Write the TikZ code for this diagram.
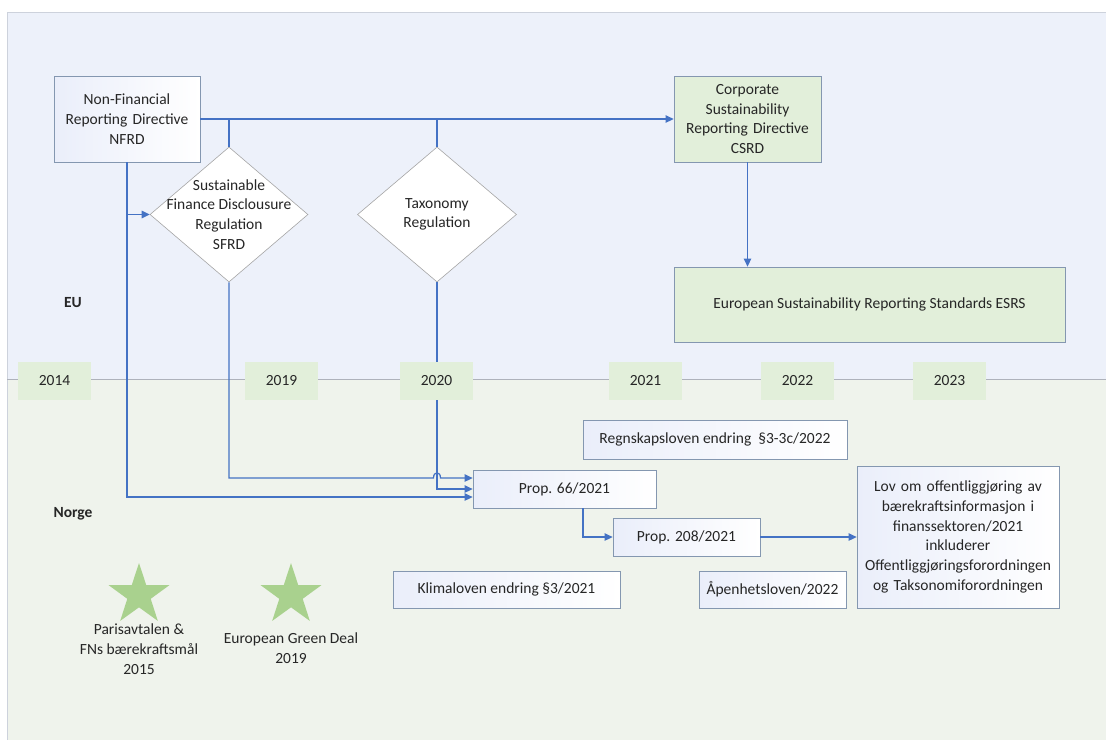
\documentclass[tikz,border=0pt]{standalone}
\usepackage{fontspec}
\setmainfont{Carlito}
\usetikzlibrary{shapes.geometric,arrows.meta}
\definecolor{eubg}{RGB}{237,241,250}
\definecolor{nobg}{RGB}{239,243,236}
\definecolor{yearfill}{RGB}{226,239,218}
\definecolor{greenbox}{RGB}{226,239,218}
\definecolor{boxline}{RGB}{132,151,176}
\definecolor{diamline}{RGB}{165,165,165}
\definecolor{arrowblue}{RGB}{68,114,196}
\definecolor{starg}{RGB}{169,209,142}
\definecolor{txt}{RGB}{38,38,38}
\definecolor{frame}{RGB}{205,210,220}
\definecolor{boxshade}{RGB}{234,238,250}
\begin{document}
\begin{tikzpicture}[x=1pt,y=-1pt,
  every node/.style={font=\fontsize{15.5}{19.7}\selectfont, text=txt},
  wbox/.style={draw=boxline, line width=0.8pt, left color=boxshade, right color=white, inner sep=0pt, align=center},
  gbox/.style={draw=boxline, line width=0.8pt, fill=greenbox, inner sep=0pt, align=center},
  diam/.style={diamond, draw=diamline, line width=0.6pt, fill=white, inner sep=0pt},
  yearbox/.style={fill=yearfill, minimum width=73pt, minimum height=38pt, inner sep=0pt},
  conn/.style={draw=arrowblue, line width=1.2pt},
  arr/.style={conn, -{Triangle[length=8pt,width=7.5pt]}},
  lbl/.style={align=center, inner sep=0pt},
  starshape/.style={star, star points=5, star point ratio=2.6, fill=starg, minimum size=64pt, inner sep=0pt}
]
\useasboundingbox (0,0) rectangle (1106,740);
% backgrounds
\fill[white] (0,0) rectangle (1106,740);
\fill[eubg] (7,12) rectangle (1106,379);
\fill[nobg] (7,379) rectangle (1106,740);
\draw[frame, line width=0.6pt] (1106,12) -- (7,12) -- (7,740);
\draw[frame!85!black, line width=0.6pt] (7,379) -- (1106,379);

% EU nodes
\node[wbox, minimum width=146pt, minimum height=86pt, text width=142pt] (nfrd) at (127,119) {Non-Financial\\Reporting Directive\\NFRD};
\node[gbox, minimum width=147pt, minimum height=86pt, text width=142pt] (csrd) at (747.5,119) {Corporate\\Sustainability\\Reporting Directive\\CSRD};
\node[gbox, minimum width=391pt, minimum height=75pt] (esrs) at (869.5,304.5) {European Sustainability Reporting Standards ESRS};
\node[diam, minimum width=158pt, minimum height=135pt] (sfrd) at (229,214.5) {};
\node[lbl] at (sfrd.center) {Sustainable\\Finance Disclousure\\Regulation\\SFRD};
\node[diam, minimum width=159pt, minimum height=135pt] (tax) at (437,214.5) {};
\node[lbl] at (tax.center) {Taxonomy\\Regulation};
\node[font=\fontsize{15.5}{19.7}\selectfont\bfseries] (eu) at (73,303) {EU};

% Norge nodes
\node[font=\fontsize{15.5}{19.7}\selectfont\bfseries] (norge) at (73,514) {Norge};
\node[wbox, minimum width=264pt, minimum height=39pt] (regn) at (715,439.5) {Regnskapsloven endring\ \ §3-3c/2022};
\node[wbox, minimum width=183pt, minimum height=38pt] (p66) at (564.5,489) {Prop. 66/2021};
\node[wbox, minimum width=147pt, minimum height=38pt] (p208) at (686.5,537) {Prop. 208/2021};
\node[wbox, minimum width=202pt, minimum height=142pt, text width=198pt] (lov) at (958,537) {Lov om offentliggjøring av\\bærekraftsinformasjon i\\finanssektoren/2021\\inkluderer\\Offentliggjøringsforordningen\\og Taksonomiforordningen};
\node[wbox, minimum width=227pt, minimum height=37pt] (klima) at (506.5,589.5) {Klimaloven endring §3/2021};
\node[wbox, minimum width=147pt, minimum height=37pt] (apen) at (772.5,589.5) {Åpenhetsloven/2022};

% stars
\node[starshape] (star1) at (139,595) {};
\node[starshape] (star2) at (291,595) {};
\node[lbl] (star1t) at (139,649) {Parisavtalen \&\\FNs bærekraftsmål\\2015};
\node[lbl] (star2t) at (291,648) {European Green Deal\\2019};

% connectors
\coordinate (j1) at (sfrd.north |- nfrd.east);
\coordinate (j2) at (tax.north |- nfrd.east);
\draw[arr] (nfrd.east) -- (csrd.west);
\draw[conn] (j1) -- (sfrd.north);
\draw[conn] (j2) -- (tax.north);
\draw[arr] (csrd.south) -- (csrd.south |- esrs.north);
\draw[arr] (nfrd.south |- sfrd.west) -- (sfrd.west);
\draw[arr] (nfrd.south) |- ([yshift=-8pt]p66.west);
\draw[arr] (tax.south) |- (p66.west);
\coordinate (sfy) at ([yshift=11pt]p66.west);
\coordinate (hopa) at ([xshift=-3.5pt]tax.south |- sfy);
\coordinate (hopb) at ([xshift=3.5pt]tax.south |- sfy);
\draw[arr] (sfrd.south) -- (sfrd.south |- sfy) -- (hopa) .. controls ([yshift=7pt]hopa) and ([yshift=7pt]hopb) .. (hopb) -- (sfy);
\draw[arr] ([xshift=18.5pt]p66.south) |- (p208.west);
\draw[arr] (p208.east) -- (lov.west);

% year boxes
\node[yearbox] (y2014) at (54.5,381) {2014};
\node[yearbox] (y2019) at (281.5,381) {2019};
\node[yearbox] (y2020) at (436.5,381) {2020};
\node[yearbox] (y2021) at (645.5,381) {2021};
\node[yearbox] (y2022) at (797.5,381) {2022};
\node[yearbox] (y2023) at (949.5,381) {2023};
\end{tikzpicture}
\end{document}
